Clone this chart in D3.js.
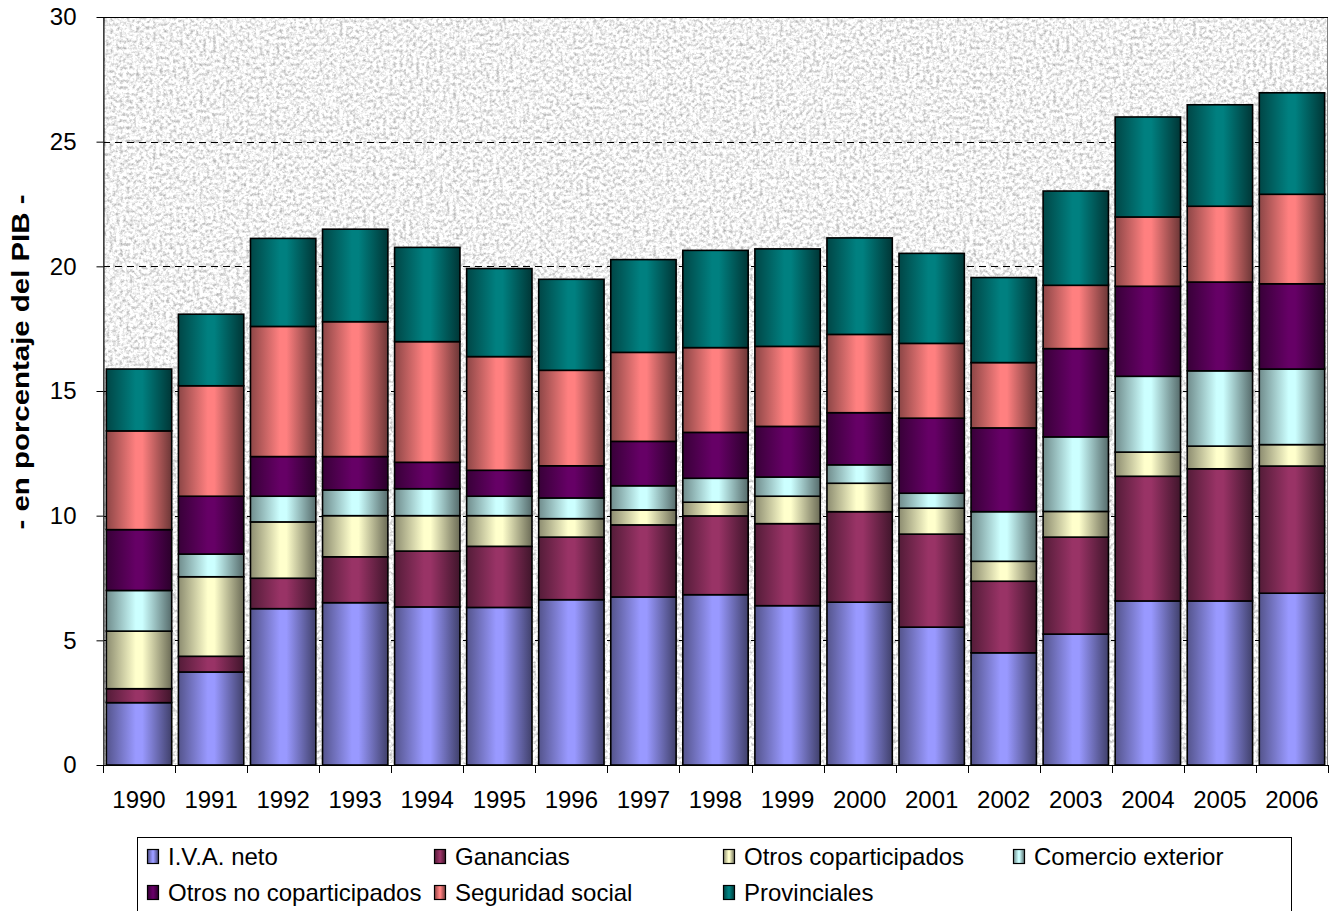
<!DOCTYPE html>
<html>
<head>
<meta charset="utf-8">
<script src="https://cdn.jsdelivr.net/npm/d3@7"></script>
<style>
  html, body { margin: 0; padding: 0; background: #ffffff; }
  svg { display: block; font-family: "Liberation Sans", Arial, sans-serif; }
</style>
</head>
<body>
<svg id="chart" width="1335" height="911"></svg>
<script>
// ---------------- DATA ----------------
const years = ["1990","1991","1992","1993","1994","1995","1996","1997","1998","1999","2000","2001","2002","2003","2004","2005","2006"];
const ivaNeto            = [2.50,3.73,6.27,6.51,6.34,6.32,6.63,6.74,6.83,6.39,6.53,5.53,4.50,5.25,6.58,6.58,6.89];
const ganancias          = [0.56,0.63,1.22,1.84,2.24,2.45,2.51,2.89,3.16,3.29,3.63,3.73,2.87,3.89,5.00,5.30,5.10];
const otrosCopart        = [2.31,3.19,2.26,1.65,1.42,1.23,0.74,0.60,0.55,1.10,1.14,1.04,0.80,1.03,0.97,0.91,0.86];
const comercioExterior   = [1.63,0.91,1.03,1.03,1.08,0.78,0.83,0.97,0.96,0.77,0.74,0.60,1.99,2.99,3.04,3.02,3.03];
const otrosNoCopart      = [2.44,2.32,1.59,1.34,1.06,1.04,1.29,1.78,1.84,2.03,2.09,3.01,3.36,3.54,3.61,3.56,3.42];
const seguridadSocial    = [3.96,4.43,5.22,5.41,4.84,4.56,3.83,3.57,3.40,3.21,3.14,3.00,2.62,2.54,2.78,3.04,3.59];
const provinciales       = [2.48,2.87,3.53,3.71,3.78,3.53,3.65,3.72,3.90,3.91,3.87,3.61,3.41,3.78,4.01,4.07,4.07];
const seriesNames = ["I.V.A. neto","Ganancias","Otros coparticipados","Comercio exterior","Otros no coparticipados","Seguridad social","Provinciales"];
const seriesColors = ["#9999FF","#993366","#FFFFCC","#CCFFFF","#660066","#FF8080","#008080"];
const yTicks = [0,5,10,15,20,25,30];
const yTitle = "- en porcentaje del PIB -";

// ---------------- BUILD ----------------
const seriesValues = [ivaNeto, ganancias, otrosCopart, comercioExterior, otrosNoCopart, seguridadSocial, provinciales];
const keys = seriesNames;
const table = years.map((y, i) => {
  const row = { year: y };
  keys.forEach((k, j) => row[k] = seriesValues[j][i]);
  return row;
});
const stacked = d3.stack().keys(keys)(table);

const svg = d3.select("#chart");
const plot = { left: 103, right: 1328, top: 17, bottom: 765 };

const x = d3.scaleBand().domain(years).range([plot.left, plot.right]).paddingInner(0.093).paddingOuter(0.0465);
const y = d3.scaleLinear().domain([0, 30]).range([plot.bottom, plot.top]);

const defs = svg.append("defs");
// granite texture
const f = defs.append("filter").attr("id", "granite").attr("x", 0).attr("y", 0).attr("width", 1).attr("height", 1)
  .attr("color-interpolation-filters", "sRGB");
f.append("feTurbulence").attr("type", "fractalNoise").attr("baseFrequency", 0.3).attr("numOctaves", 4).attr("seed", 11).attr("result", "n");
f.append("feColorMatrix").attr("in", "n").attr("type", "matrix")
  .attr("values", "0.65 0 0 0 0.62  0.65 0 0 0 0.62  0.65 0 0 0 0.62  0 0 0 0 1");

function shade(c, k) {
  const r = d3.rgb(c);
  return d3.rgb(r.r * k, r.g * k, r.b * k).formatHex();
}
seriesColors.forEach((c, i) => {
  const g = defs.append("linearGradient").attr("id", "grad" + i).attr("x1", "0%").attr("x2", "100%").attr("y1", "0%").attr("y2", "0%");
  g.append("stop").attr("offset", "0%").attr("stop-color", shade(c, 0.55));
  g.append("stop").attr("offset", "45%").attr("stop-color", c);
  g.append("stop").attr("offset", "55%").attr("stop-color", c);
  g.append("stop").attr("offset", "100%").attr("stop-color", shade(c, 0.42));
});

// plot background
svg.append("rect").attr("x", plot.left).attr("y", plot.top)
  .attr("width", plot.right - plot.left).attr("height", plot.bottom - plot.top)
  .attr("fill", "#eeeeee").attr("filter", "url(#granite)");

// gridlines
svg.append("g").selectAll("line").data(yTicks.filter(t => t > 0 && t < 30)).join("line")
  .attr("x1", plot.left).attr("x2", plot.right)
  .attr("y1", d => Math.round(y(d)) + 0.5).attr("y2", d => Math.round(y(d)) + 0.5)
  .attr("stroke", "#000").attr("stroke-width", 1).attr("stroke-dasharray", "7,5");

// plot border
svg.append("rect").attr("x", plot.left + 0.5).attr("y", plot.top + 0.5)
  .attr("width", plot.right - plot.left - 1).attr("height", plot.bottom - plot.top)
  .attr("fill", "none").attr("stroke", "#808080").attr("stroke-width", 1);
svg.append("line").attr("x1", plot.left).attr("x2", plot.right).attr("y1", plot.top + 0.5).attr("y2", plot.top + 0.5)
  .attr("stroke", "#000").attr("stroke-width", 1);

// bars
svg.append("g").selectAll("g").data(stacked).join("g")
  .attr("fill", (d, i) => `url(#grad${i})`)
  .selectAll("rect").data(d => d).join("rect")
  .attr("x", d => x(d.data.year))
  .attr("width", x.bandwidth())
  .attr("y", d => y(d[1]))
  .attr("height", d => y(d[0]) - y(d[1]))
  .attr("stroke", "#000").attr("stroke-width", 1.6);

// y axis
const yAxis = d3.axisLeft(y).tickValues(yTicks).tickSize(7).tickSizeOuter(0).tickPadding(20).tickFormat(d3.format("d"));
const gy = svg.append("g").attr("transform", `translate(${plot.left + 0.5},0)`).call(yAxis);
gy.select(".domain").attr("stroke", "#000");
gy.selectAll(".tick line").attr("stroke", "#000");
gy.selectAll(".tick text").attr("font-size", 24).attr("fill", "#000").attr("font-family", "Liberation Sans, Arial, sans-serif");

// x axis
const gx = svg.append("g");
gx.append("line").attr("x1", plot.left).attr("x2", plot.right).attr("y1", plot.bottom + 0.5).attr("y2", plot.bottom + 0.5).attr("stroke", "#000");
const boundaries = years.map(yy => x(yy) - x.step() * x.paddingInner() / 2).concat([plot.right - 0.5]);
gx.selectAll("line.tk").data(boundaries).join("line").attr("class", "tk")
  .attr("x1", d => Math.round(d) + 0.5).attr("x2", d => Math.round(d) + 0.5)
  .attr("y1", plot.bottom).attr("y2", plot.bottom + 8).attr("stroke", "#000");
gx.selectAll("text").data(years).join("text")
  .attr("x", d => x(d) + x.bandwidth() / 2).attr("y", 808)
  .attr("text-anchor", "middle").attr("font-size", 24).attr("fill", "#000")
  .text(d => d);

// y title
svg.append("text")
  .attr("transform", `translate(29, 362) rotate(-90)`)
  .attr("text-anchor", "middle").attr("font-size", 24).attr("font-weight", "bold").attr("fill", "#000")
  .attr("textLength", 335).attr("lengthAdjust", "spacingAndGlyphs")
  .text(yTitle);

// legend
const lg = svg.append("g");
lg.append("rect").attr("x", 137.5).attr("y", 837.5).attr("width", 1154).attr("height", 90)
  .attr("fill", "#fff").attr("stroke", "#000").attr("stroke-width", 1);
const colX = [147, 434, 723, 1013];
const rowY = [856, 892];
const items = lg.selectAll("g").data(seriesNames).join("g")
  .attr("transform", (d, i) => `translate(${colX[i % 4]},${rowY[Math.floor(i / 4)]})`);
items.append("rect").attr("x", 0.5).attr("y", -6.5).attr("width", 11).attr("height", 14)
  .attr("fill", (d, i) => `url(#grad${i})`).attr("stroke", "#000").attr("stroke-width", 1.2);
items.append("text").attr("x", 21).attr("y", 8.5).attr("font-size", 24).attr("fill", "#000").text(d => d);
</script>
</body>
</html>
